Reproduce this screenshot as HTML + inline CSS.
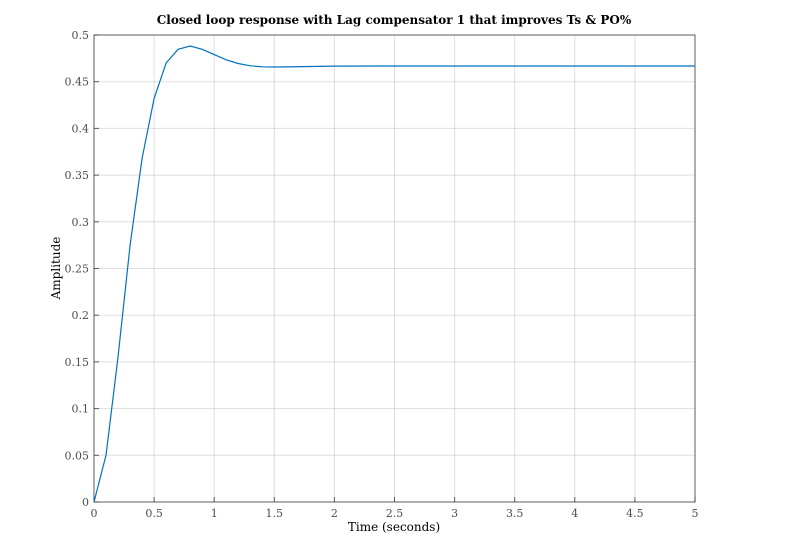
<!DOCTYPE html>
<html><head><meta charset="utf-8"><style>
body{margin:0;background:#fff;}
svg text{font-family:"DejaVu Serif","Liberation Serif",serif;}
</style></head><body>
<svg id="c" width="798" height="549" xmlns="http://www.w3.org/2000/svg">
<rect width="798" height="549" fill="#fff"/>
<text x="394" y="24" text-anchor="middle" font-size="12" font-weight="bold" fill="#000">Closed loop response with Lag compensator 1 that improves Ts &amp; PO%</text>
<g id="grid"></g>
<rect x="94" y="35" width="601" height="467" fill="none" stroke="#262626" stroke-opacity="0.7" stroke-width="1"/>
<g id="ticks"></g>
<path id="line" fill="none" stroke="#0072bd" stroke-width="1.2"/>
<text x="394" y="531" text-anchor="middle" font-size="12" fill="#000">Time (seconds)</text>
<text transform="translate(60,268) rotate(-90)" text-anchor="middle" font-size="12" fill="#000">Amplitude</text>
</svg>
<script>
const times=[0,0.1,0.2,0.3,0.4,0.5,0.6,0.7,0.8,0.9,1.0,1.1,1.2,1.3,1.4,1.5,1.6,1.8,2.0,2.5,3,4,5];
const amps=[0,0.05,0.155,0.275,0.368,0.432,0.470,0.4847,0.4882,0.4847,0.479,0.4735,0.4695,0.467,0.466,0.4657,0.4658,0.4663,0.4667,0.4668,0.4668,0.4668,0.4668];
const xTicks=[0,0.5,1,1.5,2,2.5,3,3.5,4,4.5,5];
const yTicks=[0,0.05,0.1,0.15,0.2,0.25,0.3,0.35,0.4,0.45,0.5];
const X0=94,X1=695,Y0=502,Y1=35;
const sx=v=>X0+(v-0)/(5-0)*(X1-X0);
const sy=v=>Y0-(v-0)/(0.5-0)*(Y0-Y1);
const NS="http://www.w3.org/2000/svg";
const grid=document.getElementById('grid'),ticks=document.getElementById('ticks');
function mk(tag,attrs,parent){const e=document.createElementNS(NS,tag);for(const k in attrs)e.setAttribute(k,attrs[k]);parent.appendChild(e);return e;}
xTicks.forEach(t=>{const x=sx(t);
 const g=mk('line',{x1:x,x2:x,y1:Y1,y2:Y0,stroke:'#262626','stroke-opacity':0.15},grid);
 
 
 const tk=mk('line',{x1:x,x2:x,y1:Y0,y2:Y0-5,stroke:'#262626','stroke-opacity':0.7},ticks);
 
 
 const tx=mk('text',{x:x,y:Y0+15,'text-anchor':'middle','font-size':11,fill:'#4d4d4d'},ticks);
 tx.textContent=String(t);
 
 
});
yTicks.forEach(v=>{const y=sy(v);
 const g=mk('line',{x1:X0,x2:X1,y1:y,y2:y,stroke:'#262626','stroke-opacity':0.15},grid);
 
 
 const tk=mk('line',{x1:X0,x2:X0+5,y1:y,y2:y,stroke:'#262626','stroke-opacity':0.7},ticks);
 
 
 const tx=mk('text',{x:X0-5,y:y+4,'text-anchor':'end','font-size':11,fill:'#4d4d4d'},ticks);
 tx.textContent=String(v);
 
 
});
document.getElementById('line').setAttribute('d',times.map((t,i)=>(i?'L':'M')+sx(t).toFixed(1)+','+sy(amps[i]).toFixed(1)).join(''));
</script>
</body></html>
